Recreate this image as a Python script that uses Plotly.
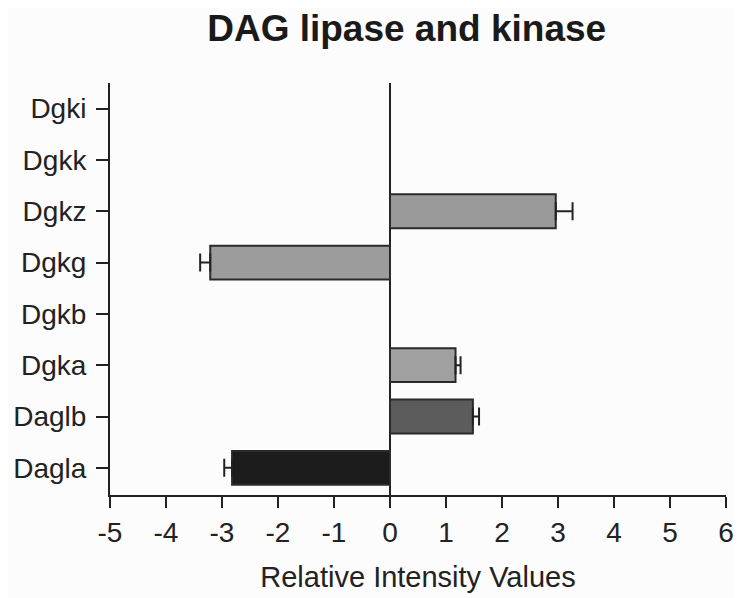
import plotly.graph_objects as go

categories = ["Dagla", "Daglb", "Dgka", "Dgkb", "Dgkg", "Dgkz", "Dgkk", "Dgki"]
values = [-2.82, 1.48, 1.17, None, -3.21, 2.96, None, None]
errors = [0.14, 0.11, 0.09, None, 0.18, 0.30, None, None]
colors = ["#1c1c1c", "#5c5c5c", "#a0a0a0", "#ffffff", "#9c9c9c", "#9a9a9a", "#ffffff", "#ffffff"]
x_ticks = [-5, -4, -3, -2, -1, 0, 1, 2, 3, 4, 5, 6]

err_plus = [(e if (v is not None and v > 0) else 0) for v, e in zip(values, errors)]
err_minus = [(e if (v is not None and v < 0) else 0) for v, e in zip(values, errors)]

fig = go.Figure()
fig.add_trace(go.Bar(
    y=categories, x=values, orientation="h",
    marker=dict(color=colors, line=dict(color="#2a2a2a", width=2)),
    width=0.66,
    error_x=dict(type="data", symmetric=False, array=err_plus, arrayminus=err_minus,
                 color="#222222", thickness=2, width=9),
    showlegend=False,
))

fig.update_layout(
    width=741, height=598,
    margin=dict(l=102, r=23, t=75, b=111),
    paper_bgcolor="#fcfcfc", plot_bgcolor="#fcfcfc",
    font=dict(family="Liberation Sans, Arial, sans-serif", color="#222222"),
    title=dict(text="<b>DAG lipase and kinase</b>", x=0.538, xanchor="center",
               y=0.966, yanchor="middle", font=dict(size=37, color="#1a1a1a")),
)
fig.update_xaxes(
    range=[-5, 6], tickvals=x_ticks, ticktext=[str(t) for t in x_ticks],
    automargin=False,
    showgrid=False, zeroline=True, zerolinecolor="#222222", zerolinewidth=2,
    showline=True, linecolor="#222222", linewidth=2,
    ticks="outside", ticklen=11, tickwidth=2, tickcolor="#222222",
    tickfont=dict(size=28),
    title=dict(text="Relative Intensity Values", font=dict(size=29), standoff=20),
)
fig.update_yaxes(
    type="category", categoryorder="array", categoryarray=categories,
    range=[-0.53, 7.5], automargin=False,
    showgrid=False, showline=True, linecolor="#222222", linewidth=2,
    ticks="outside", ticklen=12, tickwidth=2, tickcolor="#222222",
    tickfont=dict(size=28), ticklabelstandoff=4,
)

fig.write_html("out.html")
